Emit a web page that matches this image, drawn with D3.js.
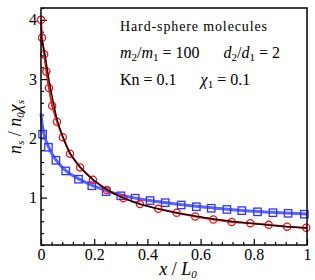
<!DOCTYPE html>
<html>
<head>
<meta charset="utf-8">
<script src="https://cdn.jsdelivr.net/npm/d3@7"></script>
<style>
  html, body { margin: 0; padding: 0; background: #ffffff; }
  svg { display: block; font-family: "Liberation Serif", "Times New Roman", serif; }
</style>
</head>
<body>
<div id="chart"></div>
<script>
(function () {
    "use strict";

    // red circles (with red connecting line)
    const redX = [0, 0.004, 0.012, 0.02, 0.03, 0.042, 0.06, 0.082, 0.109, 0.147, 0.195, 0.247, 0.31, 0.372, 0.441, 0.51, 0.58, 0.648, 0.717, 0.787, 0.856, 0.925, 0.997];
    const redY = [4.0, 3.70, 3.42, 3.13, 2.85, 2.55, 2.28, 2.02, 1.74, 1.51, 1.30, 1.13, 0.99, 0.89, 0.81, 0.745, 0.68, 0.63, 0.59, 0.566, 0.54, 0.51, 0.49];

    // blue squares
    const blueX = [0.006, 0.028, 0.056, 0.093, 0.141, 0.191, 0.245, 0.30, 0.354, 0.41, 0.467, 0.527, 0.584, 0.64, 0.699, 0.755, 0.814, 0.872, 0.929, 0.99];
    const blueY = [2.07, 1.85, 1.63, 1.45, 1.31, 1.20, 1.10, 1.03, 0.99, 0.95, 0.914, 0.875, 0.846, 0.82, 0.80, 0.78, 0.76, 0.745, 0.735, 0.72];

    // thick blue curve
    const blueLineX = [0, 0.003, 0.008, 0.015, 0.028, 0.045, 0.07, 0.1, 0.14, 0.19, 0.25, 0.3, 0.35, 0.41, 0.5, 0.6, 0.7, 0.8, 0.9, 1.0];
    const blueLineY = [2.42, 2.28, 2.14, 2.01, 1.86, 1.71, 1.56, 1.43, 1.32, 1.21, 1.11, 1.045, 0.995, 0.95, 0.895, 0.845, 0.805, 0.77, 0.745, 0.725];

    // thin black curve
    const blackX = [0, 0.008, 0.015, 0.025, 0.035, 0.045, 0.06, 0.082, 0.1, 0.125, 0.15, 0.2, 0.25, 0.3, 0.35, 0.4, 0.45, 0.5, 0.6, 0.7, 0.8, 0.9, 1.0];
    const blackY = [3.72, 3.56, 3.42, 3.13, 2.87, 2.64, 2.33, 2.03, 1.83, 1.64, 1.50, 1.29, 1.13, 1.01, 0.925, 0.855, 0.80, 0.75, 0.675, 0.61, 0.56, 0.52, 0.485];

    const xTicks = [0, 0.2, 0.4, 0.6, 0.8, 1];
    const xTickLabels = ["0", "0.2", "0.4", "0.6", "0.8", "1"];
    const yTicks = [1, 2, 3, 4];

    const width = 315;
    const height = 280;
    const margin = { top: 8, right: 8, bottom: 35, left: 41 };
    const w = width - margin.left - margin.right;
    const h = height - margin.top - margin.bottom;

    const svg = d3.select("#chart")
        .append("svg")
        .attr("width", width)
        .attr("height", height);

    const g = svg.append("g")
        .attr("transform", `translate(${margin.left},${margin.top})`);

    const x = d3.scaleLinear().domain([0, 1]).range([0, w]);
    const y = d3.scaleLinear().domain([0.2, 4.2]).range([h, 0]);

    const xMinor = d3.range(0, 1.0001, 0.04).filter((v) => Math.abs(v * 5 - Math.round(v * 5)) > 1e-6);
    const yMinor = d3.range(0.2, 4.2001, 0.2).filter((v) => Math.abs(v - Math.round(v)) > 1e-6);

    function styleAxis(sel) {
        sel.select(".domain").remove();
        sel.selectAll("line").attr("stroke", "#000").attr("stroke-width", 1.2);
        sel.selectAll("text")
            .attr("fill", "#000")
            .style("font-size", "16px")
            .style("font-family", "'Liberation Serif', serif");
    }

    g.append("g")
        .attr("transform", `translate(0,${h})`)
        .call(d3.axisBottom(x).tickValues(xMinor).tickSize(-3).tickFormat(""))
        .call(styleAxis);

    g.append("g")
        .attr("transform", `translate(0,${h})`)
        .call(d3.axisBottom(x).tickValues(xTicks).tickSize(-6).tickPadding(4)
            .tickFormat((d, i) => xTickLabels[i]))
        .call(styleAxis);

    g.append("g")
        .call(d3.axisLeft(y).tickValues(yMinor).tickSize(-3).tickFormat(""))
        .call(styleAxis);

    g.append("g")
        .call(d3.axisLeft(y).tickValues(yTicks).tickSize(-6).tickPadding(4).tickFormat(d3.format("d")))
        .call(styleAxis);

    const plot = g.append("g");

    const lineMono = d3.line()
        .x((d) => x(d[0]))
        .y((d) => y(d[1]))
        .curve(d3.curveMonotoneX);

    const lineLinear = d3.line()
        .x((d) => x(d[0]))
        .y((d) => y(d[1]));

    plot.append("path")
        .datum(blueLineX.map((v, i) => [v, blueLineY[i]]))
        .attr("d", lineMono)
        .attr("fill", "none")
        .attr("stroke", "#5566ff")
        .attr("stroke-width", 3);

    plot.selectAll("rect.sq")
        .data(blueX.map((v, i) => [v, blueY[i]]))
        .join("rect")
        .attr("class", "sq")
        .attr("x", (d) => x(d[0]) - 3.7)
        .attr("y", (d) => y(d[1]) - 3.7)
        .attr("width", 7.4)
        .attr("height", 7.4)
        .attr("fill", "none")
        .attr("stroke", "#3333ff")
        .attr("stroke-width", 1.3);

    const redPts = redX.map((v, i) => [v, redY[i]]);

    plot.append("path")
        .datum(redPts)
        .attr("d", lineLinear)
        .attr("fill", "none")
        .attr("stroke", "#e0181b")
        .attr("stroke-width", 2);

    plot.selectAll("circle.rc")
        .data(redPts)
        .join("circle")
        .attr("class", "rc")
        .attr("cx", (d) => x(d[0]))
        .attr("cy", (d) => y(d[1]))
        .attr("r", 3.6)
        .attr("fill", "none")
        .attr("stroke", "#e0181b")
        .attr("stroke-width", 1.3);

    plot.append("path")
        .datum(blackX.map((v, i) => [v, blackY[i]]))
        .attr("d", lineMono)
        .attr("fill", "none")
        .attr("stroke", "#000")
        .attr("stroke-width", 1.3);

    // frame
    g.append("rect")
        .attr("x", 0)
        .attr("y", 0)
        .attr("width", w)
        .attr("height", h)
        .attr("fill", "none")
        .attr("stroke", "#000")
        .attr("stroke-width", 1.5);

    // annotation text
    const note = svg.append("g")
        .attr("fill", "#000")
        .style("font-family", "'Liberation Serif', serif");

    note.append("text")
        .attr("x", 120)
        .attr("y", 31)
        .attr("textLength", 147)
        .attr("lengthAdjust", "spacing")
        .style("font-size", "14px")
        .text("Hard-sphere molecules");

    function mathLine(sel, parts) {
        parts.forEach((p) => {
            const t = sel.append("tspan").text(p.t);
            if (p.i) t.style("font-style", "italic");
            if (p.sub) t.attr("dy", 3).style("font-size", "11px");
            if (p.up) t.attr("dy", -3);
        });
    }

    const line2 = note.append("text")
        .attr("x", 120)
        .attr("y", 58)
        .style("font-size", "16px");
    mathLine(line2, [
        { t: "m", i: true }, { t: "2", sub: true }, { t: "/", up: true },
        { t: "m", i: true }, { t: "1", sub: true }, { t: " = 100", up: true },
        { t: "\u2003\u2002" },
        { t: "d", i: true }, { t: "2", sub: true }, { t: "/", up: true },
        { t: "d", i: true }, { t: "1", sub: true }, { t: " = 2", up: true }
    ]);

    const line3 = note.append("text")
        .attr("x", 120)
        .attr("y", 85)
        .style("font-size", "16px");
    mathLine(line3, [
        { t: "Kn = 0.1" }, { t: "\u2003\u2002" },
        { t: "\u03c7", i: true }, { t: "1", sub: true }, { t: " = 0.1", up: true }
    ]);

    // axis titles
    const xt = svg.append("text")
        .attr("x", 178)
        .attr("y", 275)
        .attr("text-anchor", "middle")
        .attr("fill", "#000")
        .style("font-size", "18px")
        .style("font-family", "'Liberation Serif', serif");
    mathLine(xt, [
        { t: "x", i: true }, { t: " / " }, { t: "L", i: true }, { t: "0", sub: true, i: true }
    ]);

    const yt = svg.append("text")
        .attr("transform", "translate(21,127) rotate(-90)")
        .attr("text-anchor", "middle")
        .attr("fill", "#000")
        .style("font-size", "18px")
        .style("font-family", "'Liberation Serif', serif");
    mathLine(yt, [
        { t: "n", i: true }, { t: "s", sub: true, i: true }, { t: " / ", up: true },
        { t: "n", i: true }, { t: "0", sub: true, i: true }, { t: "\u03c7", i: true, up: true },
        { t: "s", sub: true, i: true }
    ]);
})();
</script>
</body>
</html>
